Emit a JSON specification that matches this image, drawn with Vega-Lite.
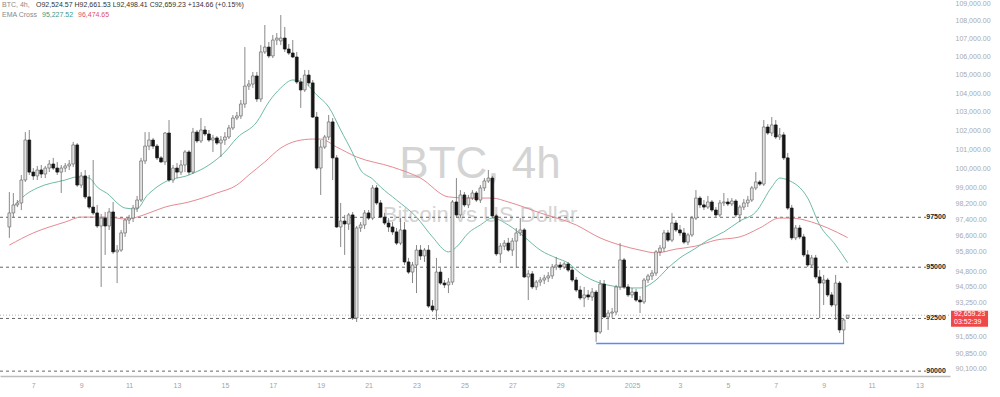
{
"$schema":"https://vega.github.io/schema/vega-lite/v6.json",
"width":950,"height":376,"autosize":{"type":"none"},"padding":{"left":0,"top":0,"right":50,"bottom":21},
"background":"white",
"config":{"view":{"stroke":null},"text":{"font":"Liberation Sans"},"axis":{"labelFont":"Liberation Sans"}},
"data":{"values":[{}]},
"datasets":{
"candles":[
{"t":"2024-12-06T00:00Z","o":97010,"h":98790,"l":96460,"c":97720},
{"t":"2024-12-06T04:00Z","o":97720,"h":98740,"l":97510,"c":98130},
{"t":"2024-12-06T08:00Z","o":98130,"h":98380,"l":98020,"c":98230},
{"t":"2024-12-06T12:00Z","o":98230,"h":99670,"l":97870,"c":99410},
{"t":"2024-12-06T16:00Z","o":99410,"h":101920,"l":99310,"c":101500},
{"t":"2024-12-06T20:00Z","o":101500,"h":102030,"l":99670,"c":99820},
{"t":"2024-12-07T00:00Z","o":99820,"h":100030,"l":99410,"c":99620},
{"t":"2024-12-07T04:00Z","o":99620,"h":100140,"l":99410,"c":99930},
{"t":"2024-12-07T08:00Z","o":99930,"h":100190,"l":99510,"c":99720},
{"t":"2024-12-07T12:00Z","o":99720,"h":100140,"l":99510,"c":100030},
{"t":"2024-12-07T16:00Z","o":100030,"h":100450,"l":99820,"c":100240},
{"t":"2024-12-07T20:00Z","o":100240,"h":100560,"l":99930,"c":100030},
{"t":"2024-12-08T00:00Z","o":100030,"h":100350,"l":99670,"c":99820},
{"t":"2024-12-08T04:00Z","o":99820,"h":100190,"l":98740,"c":100030},
{"t":"2024-12-08T08:00Z","o":100030,"h":100290,"l":99820,"c":100140},
{"t":"2024-12-08T12:00Z","o":100140,"h":100450,"l":99930,"c":100240},
{"t":"2024-12-08T16:00Z","o":100240,"h":101400,"l":100080,"c":101240},
{"t":"2024-12-08T20:00Z","o":101240,"h":101340,"l":99050,"c":99150},
{"t":"2024-12-09T00:00Z","o":99150,"h":99820,"l":99000,"c":99620},
{"t":"2024-12-09T04:00Z","o":99620,"h":99930,"l":98430,"c":98540},
{"t":"2024-12-09T08:00Z","o":98540,"h":99670,"l":97920,"c":98020},
{"t":"2024-12-09T12:00Z","o":98020,"h":100450,"l":97620,"c":97720},
{"t":"2024-12-09T16:00Z","o":97720,"h":98130,"l":96960,"c":97060},
{"t":"2024-12-09T20:00Z","o":97060,"h":97670,"l":94030,"c":97460},
{"t":"2024-12-10T00:00Z","o":97460,"h":97770,"l":95610,"c":97060},
{"t":"2024-12-10T04:00Z","o":97060,"h":97970,"l":96860,"c":97770},
{"t":"2024-12-10T08:00Z","o":97770,"h":98280,"l":95660,"c":95760},
{"t":"2024-12-10T12:00Z","o":95760,"h":96100,"l":94220,"c":95850},
{"t":"2024-12-10T16:00Z","o":95850,"h":96860,"l":95760,"c":96710},
{"t":"2024-12-10T20:00Z","o":96710,"h":97460,"l":96510,"c":97360},
{"t":"2024-12-11T00:00Z","o":97360,"h":97620,"l":97160,"c":97460},
{"t":"2024-12-11T04:00Z","o":97460,"h":98130,"l":97260,"c":97970},
{"t":"2024-12-11T08:00Z","o":97970,"h":98590,"l":97770,"c":98380},
{"t":"2024-12-11T12:00Z","o":98380,"h":100560,"l":98280,"c":100400},
{"t":"2024-12-11T16:00Z","o":100400,"h":101920,"l":100240,"c":101180},
{"t":"2024-12-11T20:00Z","o":101180,"h":101920,"l":100970,"c":101500},
{"t":"2024-12-12T00:00Z","o":101500,"h":101610,"l":101030,"c":101180},
{"t":"2024-12-12T04:00Z","o":101180,"h":101290,"l":100450,"c":100560},
{"t":"2024-12-12T08:00Z","o":100560,"h":100660,"l":100290,"c":100350},
{"t":"2024-12-12T12:00Z","o":100350,"h":101920,"l":100190,"c":101870},
{"t":"2024-12-12T16:00Z","o":101870,"h":102560,"l":99310,"c":99410},
{"t":"2024-12-12T20:00Z","o":99410,"h":100190,"l":99260,"c":100030},
{"t":"2024-12-13T00:00Z","o":100030,"h":100290,"l":99510,"c":99820},
{"t":"2024-12-13T04:00Z","o":99820,"h":100450,"l":99670,"c":100190},
{"t":"2024-12-13T08:00Z","o":100190,"h":100970,"l":99820,"c":100870},
{"t":"2024-12-13T12:00Z","o":100870,"h":100970,"l":99670,"c":99820},
{"t":"2024-12-13T16:00Z","o":99820,"h":102140,"l":99720,"c":101920},
{"t":"2024-12-13T20:00Z","o":101920,"h":102030,"l":101340,"c":101450},
{"t":"2024-12-14T00:00Z","o":101450,"h":102670,"l":101340,"c":102030},
{"t":"2024-12-14T04:00Z","o":102030,"h":102240,"l":101710,"c":101820},
{"t":"2024-12-14T08:00Z","o":101820,"h":102030,"l":101400,"c":101500},
{"t":"2024-12-14T12:00Z","o":101500,"h":101770,"l":100870,"c":101610},
{"t":"2024-12-14T16:00Z","o":101610,"h":101710,"l":101240,"c":101340},
{"t":"2024-12-14T20:00Z","o":101340,"h":101710,"l":100610,"c":101500},
{"t":"2024-12-15T00:00Z","o":101500,"h":101920,"l":101240,"c":101660},
{"t":"2024-12-15T04:00Z","o":101660,"h":102300,"l":101550,"c":102140},
{"t":"2024-12-15T08:00Z","o":102140,"h":102830,"l":102030,"c":102670},
{"t":"2024-12-15T12:00Z","o":102670,"h":102990,"l":102560,"c":102780},
{"t":"2024-12-15T16:00Z","o":102780,"h":103640,"l":102620,"c":103420},
{"t":"2024-12-15T20:00Z","o":103420,"h":106530,"l":103210,"c":104390},
{"t":"2024-12-16T00:00Z","o":104390,"h":104720,"l":104180,"c":104500},
{"t":"2024-12-16T04:00Z","o":104500,"h":105160,"l":104290,"c":104940},
{"t":"2024-12-16T08:00Z","o":104940,"h":105160,"l":103530,"c":103690},
{"t":"2024-12-16T12:00Z","o":103690,"h":106640,"l":103530,"c":106260},
{"t":"2024-12-16T16:00Z","o":106260,"h":107760,"l":106150,"c":106530},
{"t":"2024-12-16T20:00Z","o":106530,"h":106810,"l":105920,"c":106040},
{"t":"2024-12-17T00:00Z","o":106040,"h":107200,"l":105920,"c":106920},
{"t":"2024-12-17T04:00Z","o":106920,"h":107310,"l":106640,"c":107030},
{"t":"2024-12-17T08:00Z","o":106870,"h":108320,"l":106640,"c":107030},
{"t":"2024-12-17T12:00Z","o":107030,"h":107650,"l":106260,"c":106420},
{"t":"2024-12-17T16:00Z","o":106420,"h":106700,"l":106090,"c":106200},
{"t":"2024-12-17T20:00Z","o":106200,"h":106920,"l":105920,"c":105980},
{"t":"2024-12-18T00:00Z","o":105980,"h":106260,"l":104500,"c":104610},
{"t":"2024-12-18T04:00Z","o":104610,"h":104830,"l":103210,"c":104180},
{"t":"2024-12-18T08:00Z","o":104180,"h":105270,"l":104070,"c":104990},
{"t":"2024-12-18T12:00Z","o":104990,"h":105270,"l":104390,"c":104560},
{"t":"2024-12-18T16:00Z","o":104560,"h":104720,"l":102670,"c":102720},
{"t":"2024-12-18T20:00Z","o":102720,"h":102990,"l":99930,"c":100030},
{"t":"2024-12-19T00:00Z","o":100030,"h":101500,"l":98640,"c":101130},
{"t":"2024-12-19T04:00Z","o":101130,"h":101770,"l":101030,"c":101660},
{"t":"2024-12-19T08:00Z","o":101660,"h":102830,"l":101500,"c":102460},
{"t":"2024-12-19T12:00Z","o":102460,"h":102670,"l":99410,"c":100560},
{"t":"2024-12-19T16:00Z","o":100560,"h":100710,"l":96960,"c":97010},
{"t":"2024-12-19T20:00Z","o":97010,"h":98230,"l":96000,"c":97310},
{"t":"2024-12-20T00:00Z","o":97310,"h":97620,"l":95610,"c":97160},
{"t":"2024-12-20T04:00Z","o":97160,"h":97720,"l":96860,"c":97620},
{"t":"2024-12-20T08:00Z","o":97620,"h":97770,"l":92430,"c":92520},
{"t":"2024-12-20T12:00Z","o":92520,"h":97060,"l":92330,"c":96960},
{"t":"2024-12-20T16:00Z","o":96960,"h":97260,"l":96760,"c":97110},
{"t":"2024-12-20T20:00Z","o":97110,"h":97870,"l":96910,"c":97720},
{"t":"2024-12-21T00:00Z","o":97720,"h":97870,"l":97360,"c":97460},
{"t":"2024-12-21T04:00Z","o":97460,"h":99150,"l":97360,"c":99000},
{"t":"2024-12-21T08:00Z","o":99000,"h":99150,"l":98130,"c":98230},
{"t":"2024-12-21T12:00Z","o":98230,"h":98380,"l":97460,"c":97510},
{"t":"2024-12-21T16:00Z","o":97510,"h":97720,"l":97110,"c":97210},
{"t":"2024-12-21T20:00Z","o":97210,"h":97460,"l":96760,"c":97010},
{"t":"2024-12-22T00:00Z","o":97010,"h":97260,"l":96610,"c":96760},
{"t":"2024-12-22T04:00Z","o":96760,"h":96960,"l":96100,"c":96200},
{"t":"2024-12-22T08:00Z","o":96200,"h":97460,"l":96100,"c":96860},
{"t":"2024-12-22T12:00Z","o":96860,"h":97260,"l":95110,"c":95260},
{"t":"2024-12-22T16:00Z","o":95260,"h":95460,"l":94670,"c":94760},
{"t":"2024-12-22T20:00Z","o":94760,"h":95260,"l":94220,"c":95110},
{"t":"2024-12-23T00:00Z","o":95110,"h":96100,"l":93730,"c":95850},
{"t":"2024-12-23T04:00Z","o":95850,"h":96100,"l":95360,"c":95560},
{"t":"2024-12-23T08:00Z","o":95560,"h":95950,"l":95260,"c":95850},
{"t":"2024-12-23T12:00Z","o":95850,"h":96100,"l":93010,"c":93100},
{"t":"2024-12-23T16:00Z","o":93100,"h":93390,"l":92810,"c":92910},
{"t":"2024-12-23T20:00Z","o":92910,"h":95460,"l":92430,"c":94760},
{"t":"2024-12-24T00:00Z","o":94760,"h":94960,"l":94130,"c":94220},
{"t":"2024-12-24T04:00Z","o":94220,"h":94370,"l":93980,"c":94130},
{"t":"2024-12-24T08:00Z","o":94130,"h":94470,"l":93730,"c":94270},
{"t":"2024-12-24T12:00Z","o":94270,"h":98380,"l":94130,"c":98280},
{"t":"2024-12-24T16:00Z","o":98280,"h":99510,"l":97510,"c":97620},
{"t":"2024-12-24T20:00Z","o":97620,"h":98890,"l":97460,"c":98640},
{"t":"2024-12-25T00:00Z","o":98640,"h":98790,"l":98020,"c":98130},
{"t":"2024-12-25T04:00Z","o":98130,"h":98640,"l":97970,"c":98480},
{"t":"2024-12-25T08:00Z","o":98480,"h":98890,"l":98380,"c":98740},
{"t":"2024-12-25T12:00Z","o":98740,"h":98840,"l":98280,"c":98380},
{"t":"2024-12-25T16:00Z","o":98380,"h":99150,"l":98230,"c":99000},
{"t":"2024-12-25T20:00Z","o":99000,"h":99510,"l":98840,"c":99360},
{"t":"2024-12-26T00:00Z","o":99360,"h":99930,"l":99260,"c":99510},
{"t":"2024-12-26T04:00Z","o":99510,"h":99620,"l":97460,"c":97570},
{"t":"2024-12-26T08:00Z","o":97570,"h":97670,"l":95560,"c":95660},
{"t":"2024-12-26T12:00Z","o":95660,"h":96200,"l":95210,"c":96050},
{"t":"2024-12-26T16:00Z","o":96050,"h":96350,"l":95850,"c":96200},
{"t":"2024-12-26T20:00Z","o":96200,"h":96460,"l":95760,"c":95850},
{"t":"2024-12-27T00:00Z","o":95850,"h":96460,"l":95560,"c":96300},
{"t":"2024-12-27T04:00Z","o":96300,"h":96960,"l":94960,"c":96710},
{"t":"2024-12-27T08:00Z","o":96710,"h":97460,"l":96560,"c":96860},
{"t":"2024-12-27T12:00Z","o":96860,"h":96960,"l":94470,"c":94520},
{"t":"2024-12-27T16:00Z","o":94520,"h":94860,"l":93390,"c":94670},
{"t":"2024-12-27T20:00Z","o":94670,"h":94810,"l":93930,"c":94030},
{"t":"2024-12-28T00:00Z","o":94030,"h":94370,"l":93880,"c":94270},
{"t":"2024-12-28T04:00Z","o":94270,"h":94520,"l":94080,"c":94370},
{"t":"2024-12-28T08:00Z","o":94370,"h":94620,"l":94170,"c":94470},
{"t":"2024-12-28T12:00Z","o":94470,"h":94760,"l":94270,"c":94570},
{"t":"2024-12-28T16:00Z","o":94570,"h":95160,"l":94420,"c":95010},
{"t":"2024-12-28T20:00Z","o":95010,"h":95510,"l":94860,"c":95110},
{"t":"2024-12-29T00:00Z","o":95110,"h":95260,"l":94860,"c":95010},
{"t":"2024-12-29T04:00Z","o":95010,"h":95260,"l":94910,"c":95160},
{"t":"2024-12-29T08:00Z","o":95160,"h":95260,"l":94760,"c":94860},
{"t":"2024-12-29T12:00Z","o":94860,"h":95010,"l":94270,"c":94370},
{"t":"2024-12-29T16:00Z","o":94370,"h":94520,"l":93780,"c":93880},
{"t":"2024-12-29T20:00Z","o":93880,"h":94080,"l":93390,"c":93490},
{"t":"2024-12-30T00:00Z","o":93490,"h":94030,"l":93050,"c":93640},
{"t":"2024-12-30T04:00Z","o":93640,"h":93880,"l":93390,"c":93540},
{"t":"2024-12-30T08:00Z","o":93540,"h":93980,"l":93350,"c":93780},
{"t":"2024-12-30T12:00Z","o":93780,"h":93880,"l":91380,"c":91850},
{"t":"2024-12-30T16:00Z","o":91850,"h":94370,"l":91760,"c":94170},
{"t":"2024-12-30T20:00Z","o":94170,"h":94370,"l":92520,"c":92570},
{"t":"2024-12-31T00:00Z","o":92570,"h":92910,"l":91950,"c":92760},
{"t":"2024-12-31T04:00Z","o":92760,"h":93010,"l":92520,"c":92810},
{"t":"2024-12-31T08:00Z","o":92810,"h":94130,"l":92670,"c":94030},
{"t":"2024-12-31T12:00Z","o":94030,"h":96200,"l":93880,"c":95360},
{"t":"2024-12-31T16:00Z","o":95360,"h":95460,"l":93930,"c":94030},
{"t":"2024-12-31T20:00Z","o":94030,"h":94170,"l":93540,"c":93640},
{"t":"2025-01-01T00:00Z","o":93640,"h":93980,"l":93490,"c":93780},
{"t":"2025-01-01T04:00Z","o":93780,"h":93930,"l":93300,"c":93390},
{"t":"2025-01-01T08:00Z","o":93390,"h":93590,"l":92760,"c":93300},
{"t":"2025-01-01T12:00Z","o":93300,"h":94470,"l":93200,"c":94370},
{"t":"2025-01-01T16:00Z","o":94370,"h":94670,"l":94220,"c":94570},
{"t":"2025-01-01T20:00Z","o":94570,"h":94860,"l":94370,"c":94710},
{"t":"2025-01-02T00:00Z","o":94710,"h":95850,"l":94570,"c":95760},
{"t":"2025-01-02T04:00Z","o":95760,"h":96100,"l":95560,"c":95950},
{"t":"2025-01-02T08:00Z","o":95950,"h":96860,"l":95760,"c":96710},
{"t":"2025-01-02T12:00Z","o":96710,"h":96860,"l":96250,"c":96350},
{"t":"2025-01-02T16:00Z","o":96350,"h":97720,"l":96250,"c":97210},
{"t":"2025-01-02T20:00Z","o":97210,"h":97360,"l":96760,"c":96860},
{"t":"2025-01-03T00:00Z","o":96860,"h":97110,"l":96560,"c":96710},
{"t":"2025-01-03T04:00Z","o":96710,"h":96960,"l":96150,"c":96250},
{"t":"2025-01-03T08:00Z","o":96250,"h":96710,"l":96100,"c":96610},
{"t":"2025-01-03T12:00Z","o":96610,"h":97570,"l":96510,"c":97460},
{"t":"2025-01-03T16:00Z","o":97460,"h":98890,"l":97360,"c":98480},
{"t":"2025-01-03T20:00Z","o":98480,"h":98590,"l":97970,"c":98130},
{"t":"2025-01-04T00:00Z","o":98130,"h":98380,"l":97870,"c":98020},
{"t":"2025-01-04T04:00Z","o":98020,"h":98590,"l":97920,"c":98280},
{"t":"2025-01-04T08:00Z","o":98280,"h":98380,"l":97770,"c":97870},
{"t":"2025-01-04T12:00Z","o":97870,"h":98020,"l":97510,"c":97620},
{"t":"2025-01-04T16:00Z","o":97620,"h":98380,"l":97510,"c":98230},
{"t":"2025-01-04T20:00Z","o":98230,"h":98740,"l":98070,"c":98280},
{"t":"2025-01-05T00:00Z","o":98280,"h":98480,"l":98070,"c":98180},
{"t":"2025-01-05T04:00Z","o":98180,"h":98480,"l":98070,"c":98330},
{"t":"2025-01-05T08:00Z","o":98330,"h":98430,"l":97510,"c":97620},
{"t":"2025-01-05T12:00Z","o":97620,"h":98130,"l":97260,"c":98020},
{"t":"2025-01-05T16:00Z","o":98020,"h":98430,"l":97870,"c":98230},
{"t":"2025-01-05T20:00Z","o":98230,"h":98590,"l":98020,"c":98380},
{"t":"2025-01-06T00:00Z","o":98380,"h":99100,"l":98280,"c":99000},
{"t":"2025-01-06T04:00Z","o":99000,"h":99820,"l":98890,"c":99310},
{"t":"2025-01-06T08:00Z","o":99310,"h":99410,"l":99100,"c":99200},
{"t":"2025-01-06T12:00Z","o":99200,"h":102560,"l":99100,"c":102190},
{"t":"2025-01-06T16:00Z","o":102190,"h":102350,"l":101770,"c":101870},
{"t":"2025-01-06T20:00Z","o":101870,"h":102720,"l":101710,"c":102300},
{"t":"2025-01-07T00:00Z","o":102300,"h":102560,"l":101550,"c":101660},
{"t":"2025-01-07T04:00Z","o":101660,"h":102140,"l":101500,"c":101770},
{"t":"2025-01-07T08:00Z","o":101770,"h":101920,"l":100450,"c":100560},
{"t":"2025-01-07T12:00Z","o":100560,"h":100820,"l":97870,"c":97970},
{"t":"2025-01-07T16:00Z","o":97970,"h":98130,"l":96350,"c":96460},
{"t":"2025-01-07T20:00Z","o":96460,"h":97110,"l":96350,"c":96960},
{"t":"2025-01-08T00:00Z","o":96960,"h":97110,"l":96400,"c":96510},
{"t":"2025-01-08T04:00Z","o":96510,"h":96660,"l":95510,"c":95610},
{"t":"2025-01-08T08:00Z","o":95610,"h":95850,"l":95010,"c":95110},
{"t":"2025-01-08T12:00Z","o":95110,"h":95610,"l":94960,"c":95460},
{"t":"2025-01-08T16:00Z","o":95460,"h":95610,"l":94420,"c":94520},
{"t":"2025-01-08T20:00Z","o":94520,"h":94860,"l":92520,"c":94220},
{"t":"2025-01-09T00:00Z","o":94220,"h":94620,"l":93150,"c":94370},
{"t":"2025-01-09T04:00Z","o":94370,"h":94470,"l":93540,"c":93640},
{"t":"2025-01-09T08:00Z","o":93640,"h":93780,"l":93050,"c":93150},
{"t":"2025-01-09T12:00Z","o":93150,"h":94620,"l":92430,"c":94220},
{"t":"2025-01-09T16:00Z","o":94220,"h":94320,"l":91800,"c":91950},
{"t":"2025-01-09T20:00Z","o":91950,"h":92520,"l":91300,"c":92430},
{"t":"2025-01-10T00:00Z","o":92524.57,"h":92661.53,"l":92498.41,"c":92659.23}
],
"ema1":[
{"t":"2024-12-06T04:00Z","v":98020},{"t":"2024-12-06T16:00Z","v":98640},{"t":"2024-12-07T04:00Z","v":99000},{"t":"2024-12-08T08:00Z","v":99410},{"t":"2024-12-08T20:00Z","v":99570},{"t":"2024-12-09T08:00Z","v":99510},{"t":"2024-12-09T16:00Z","v":99050},{"t":"2024-12-10T04:00Z","v":98640},{"t":"2024-12-10T12:00Z","v":98230},{"t":"2024-12-10T20:00Z","v":97970},{"t":"2024-12-11T08:00Z","v":97920},{"t":"2024-12-11T12:00Z","v":98130},{"t":"2024-12-11T16:00Z","v":98480},{"t":"2024-12-12T00:00Z","v":98890},{"t":"2024-12-12T12:00Z","v":99310},{"t":"2024-12-13T12:00Z","v":99670},{"t":"2024-12-14T08:00Z","v":100190},{"t":"2024-12-15T00:00Z","v":100870},{"t":"2024-12-15T12:00Z","v":101610},{"t":"2024-12-16T08:00Z","v":102460},{"t":"2024-12-16T20:00Z","v":103530},{"t":"2024-12-17T08:00Z","v":104290},{"t":"2024-12-17T20:00Z","v":104720},{"t":"2024-12-18T08:00Z","v":104560},{"t":"2024-12-18T20:00Z","v":103910},{"t":"2024-12-19T08:00Z","v":103260},{"t":"2024-12-19T20:00Z","v":102030},{"t":"2024-12-20T08:00Z","v":100820},{"t":"2024-12-20T16:00Z","v":99930},{"t":"2024-12-21T04:00Z","v":99460},{"t":"2024-12-21T12:00Z","v":99050},{"t":"2024-12-22T04:00Z","v":98380},{"t":"2024-12-23T00:00Z","v":97510},{"t":"2024-12-23T16:00Z","v":96510},{"t":"2024-12-24T08:00Z","v":95760},{"t":"2024-12-24T16:00Z","v":96000},{"t":"2024-12-25T04:00Z","v":96710},{"t":"2024-12-25T16:00Z","v":97110},{"t":"2024-12-26T04:00Z","v":97460},{"t":"2024-12-26T20:00Z","v":97110},{"t":"2024-12-27T12:00Z","v":96510},{"t":"2024-12-28T04:00Z","v":95850},{"t":"2024-12-28T20:00Z","v":95460},{"t":"2024-12-29T08:00Z","v":95210},{"t":"2024-12-29T20:00Z","v":94710},{"t":"2024-12-30T16:00Z","v":94220},{"t":"2024-12-31T04:00Z","v":94080},{"t":"2025-01-01T00:00Z","v":93980},{"t":"2025-01-01T08:00Z","v":93980},{"t":"2025-01-02T00:00Z","v":94370},{"t":"2025-01-02T12:00Z","v":94960},{"t":"2025-01-03T00:00Z","v":95460},{"t":"2025-01-03T16:00Z","v":95950},{"t":"2025-01-04T04:00Z","v":96350},{"t":"2025-01-04T20:00Z","v":96760},{"t":"2025-01-05T12:00Z","v":97310},{"t":"2025-01-06T04:00Z","v":97770},{"t":"2025-01-06T20:00Z","v":99050},{"t":"2025-01-07T04:00Z","v":99510},{"t":"2025-01-07T12:00Z","v":99410},{"t":"2025-01-08T08:00Z","v":98480},{"t":"2025-01-08T20:00Z","v":97110},{"t":"2025-01-09T12:00Z","v":96100},{"t":"2025-01-10T00:00Z","v":95227.52}
],
"ema2":[
{"t":"2024-12-06T00:00Z","v":96100},{"t":"2024-12-07T00:00Z","v":96710},{"t":"2024-12-08T08:00Z","v":97260},{"t":"2024-12-09T00:00Z","v":97510},{"t":"2024-12-09T16:00Z","v":97510},{"t":"2024-12-10T12:00Z","v":97460},{"t":"2024-12-10T20:00Z","v":97410},{"t":"2024-12-11T08:00Z","v":97510},{"t":"2024-12-11T20:00Z","v":97720},{"t":"2024-12-12T12:00Z","v":98020},{"t":"2024-12-13T12:00Z","v":98280},{"t":"2024-12-14T16:00Z","v":98740},{"t":"2024-12-15T12:00Z","v":99150},{"t":"2024-12-16T00:00Z","v":99670},{"t":"2024-12-16T16:00Z","v":100350},{"t":"2024-12-17T08:00Z","v":101080},{"t":"2024-12-18T00:00Z","v":101450},{"t":"2024-12-18T16:00Z","v":101550},{"t":"2024-12-19T00:00Z","v":101550},{"t":"2024-12-19T16:00Z","v":101130},{"t":"2024-12-20T12:00Z","v":100610},{"t":"2024-12-22T00:00Z","v":100080},{"t":"2024-12-23T04:00Z","v":99510},{"t":"2024-12-24T08:00Z","v":98540},{"t":"2024-12-25T04:00Z","v":98480},{"t":"2024-12-26T04:00Z","v":98480},{"t":"2024-12-26T20:00Z","v":98280},{"t":"2024-12-28T04:00Z","v":97720},{"t":"2024-12-29T16:00Z","v":97110},{"t":"2024-12-30T16:00Z","v":96460},{"t":"2024-12-31T12:00Z","v":96100},{"t":"2025-01-01T08:00Z","v":95850},{"t":"2025-01-02T00:00Z","v":95710},{"t":"2025-01-02T20:00Z","v":95900},{"t":"2025-01-03T16:00Z","v":96050},{"t":"2025-01-04T12:00Z","v":96350},{"t":"2025-01-05T12:00Z","v":96510},{"t":"2025-01-06T08:00Z","v":96960},{"t":"2025-01-07T04:00Z","v":97460},{"t":"2025-01-07T16:00Z","v":97460},{"t":"2025-01-08T12:00Z","v":97260},{"t":"2025-01-09T04:00Z","v":96960},{"t":"2025-01-10T00:00Z","v":96474.65}
],
"levels":[{"p":97500},{"p":95000},{"p":92500},{"p":90000}],
"support":[{"t":"2024-12-30T12:00Z","p":91300},{"t":"2025-01-09T20:30Z","p":91300}]
},
"layer":[
{"data":{"name":"candles"},"mark":{"type":"bar","width":2.8,"strokeWidth":0.7,"opacity":0},
 "encoding":{
 "x":{"field":"t","type":"temporal","scale":{"padding":0,"domain":[{"year":2024,"month":12,"date":5,"hours":14,"minutes":38,"utc":true},{"year":2025,"month":1,"date":14,"hours":6,"minutes":36,"utc":true}]},
  "axis":{"orient":"bottom","title":null,"grid":false,"ticks":false,"domain":true,"domainColor":"#bdbdbd","domainWidth":1.5,"labelColor":"#a3a3a3","labelFontSize":7,"labelPadding":5,"labelFlush":false,"labelOverlap":false,
   "values":[{"year":2024,"month":12,"date":7,"utc":true},{"year":2024,"month":12,"date":9,"utc":true},{"year":2024,"month":12,"date":11,"utc":true},{"year":2024,"month":12,"date":13,"utc":true},{"year":2024,"month":12,"date":15,"utc":true},{"year":2024,"month":12,"date":17,"utc":true},{"year":2024,"month":12,"date":19,"utc":true},{"year":2024,"month":12,"date":21,"utc":true},{"year":2024,"month":12,"date":23,"utc":true},{"year":2024,"month":12,"date":25,"utc":true},{"year":2024,"month":12,"date":27,"utc":true},{"year":2024,"month":12,"date":29,"utc":true},{"year":2025,"month":1,"date":1,"utc":true},{"year":2025,"month":1,"date":3,"utc":true},{"year":2025,"month":1,"date":5,"utc":true},{"year":2025,"month":1,"date":7,"utc":true},{"year":2025,"month":1,"date":9,"utc":true},{"year":2025,"month":1,"date":11,"utc":true},{"year":2025,"month":1,"date":13,"utc":true}],
   "labelExpr":"utcdate(datum.value) == 1 && utcmonth(datum.value) == 0 ? utcFormat(datum.value, '%Y') : utcFormat(datum.value, '%-d')"}},
 "y":{"field":"o","type":"quantitative","scale":{"type":"log","domain":[89772,109171],"nice":false,"zero":false},
  "axis":{"orient":"right","title":null,"grid":false,"ticks":false,"domain":false,"labelColor":"#a6a9b0","labelFontSize":7,"labelPadding":5,"labelOverlap":false,"labelAlign":"left","format":",.2f",
   "values":[109000,108000,107000,106000,105000,104000,103000,102000,101000,100000,99000,98200,97400,96600,95800,94800,94050,93250,91650,90850,90100]}},
 "y2":{"field":"c"}}},
{"mark":{"type":"text","fontSize":44,"color":"#d4d4d4","align":"center","baseline":"middle"},
 "encoding":{"x":{"datum":{"year":2024,"month":12,"date":25,"hours":15,"minutes":38,"utc":true},"type":"temporal"},
 "y":{"datum":100190,"type":"quantitative","scale":{"type":"log"}},"text":{"value":"BTC, 4h"}}},
{"mark":{"type":"text","fontSize":22,"color":"#d4d4d4","align":"center","baseline":"middle"},
 "encoding":{"x":{"datum":{"year":2024,"month":12,"date":25,"hours":15,"minutes":38,"utc":true},"type":"temporal"},
 "y":{"datum":97616,"type":"quantitative","scale":{"type":"log"}},"text":{"value":"Bitcoin vs US Dollar"}}},
{"data":{"name":"levels"},"mark":{"type":"rule","color":"#555555","strokeWidth":0.9,"strokeDash":[3,3]},
 "encoding":{"x":{"datum":{"year":2024,"month":12,"date":5,"hours":14,"minutes":38,"utc":true},"type":"temporal"},
 "x2":{"datum":{"year":2025,"month":1,"date":13,"hours":6,"minutes":38,"utc":true}},
 "y":{"field":"p","type":"quantitative","scale":{"type":"log"}}}},
{"data":{"name":"levels"},"mark":{"type":"text","fontSize":7,"fontWeight":"bold","color":"#222222","align":"center","baseline":"middle"},
 "encoding":{"x":{"datum":{"year":2025,"month":1,"date":13,"hours":16,"minutes":38,"utc":true},"type":"temporal"},
 "y":{"field":"p","type":"quantitative","scale":{"type":"log"}},"text":{"field":"p","type":"quantitative","format":"d"}}},
{"mark":{"type":"rule","color":"#9e9e9e","strokeWidth":0.8,"strokeDash":[1,2]},
 "encoding":{"x":{"datum":{"year":2024,"month":12,"date":5,"hours":14,"minutes":38,"utc":true},"type":"temporal"},
 "x2":{"datum":{"year":2025,"month":1,"date":14,"hours":6,"minutes":36,"utc":true}},
 "y":{"datum":92659.23,"type":"quantitative","scale":{"type":"log"}}}},
{"data":{"name":"ema2"},"mark":{"type":"line","color":"#e58a92","strokeWidth":1,"interpolate":"monotone"},
 "encoding":{"x":{"field":"t","type":"temporal"},"y":{"field":"v","type":"quantitative","scale":{"type":"log"}}}},
{"data":{"name":"ema1"},"mark":{"type":"line","color":"#6fbba6","strokeWidth":1,"interpolate":"monotone"},
 "encoding":{"x":{"field":"t","type":"temporal"},"y":{"field":"v","type":"quantitative","scale":{"type":"log"}}}},
{"data":{"name":"support"},"mark":{"type":"line","color":"#5b8def","strokeWidth":1.6},
 "encoding":{"x":{"field":"t","type":"temporal"},"y":{"field":"p","type":"quantitative","scale":{"type":"log"}}}},
{"data":{"name":"candles"},"mark":{"type":"rule","color":"#6b6b6b","strokeWidth":0.8},
 "encoding":{"x":{"field":"t","type":"temporal"},"y":{"field":"l","type":"quantitative","scale":{"type":"log"}},"y2":{"field":"h"}}},
{"data":{"name":"candles"},"mark":{"type":"bar","width":2.8,"strokeWidth":0.7},
 "encoding":{
 "x":{"field":"t","type":"temporal"},
 "y":{"field":"o","type":"quantitative","scale":{"type":"log"}},
 "y2":{"field":"c"},
 "fill":{"condition":{"test":"datum.c >= datum.o","value":"#e3e3e3"},"value":"#161616"},
 "stroke":{"condition":{"test":"datum.c >= datum.o","value":"#6b6b6b"},"value":"#161616"}}},
{"mark":{"type":"text","fontSize":7,"color":"#8a8a8a","align":"left","baseline":"middle"},
 "encoding":{"x":{"datum":{"year":2024,"month":12,"date":5,"hours":16,"minutes":38,"utc":true},"type":"temporal"},
 "y":{"datum":108885,"type":"quantitative","scale":{"type":"log"}},"text":{"value":"BTC, 4h,"}}},
{"mark":{"type":"text","fontSize":7,"color":"#333333","align":"left","baseline":"middle"},
 "encoding":{"x":{"datum":{"year":2024,"month":12,"date":7,"hours":2,"minutes":43,"utc":true},"type":"temporal"},
 "y":{"datum":108885,"type":"quantitative","scale":{"type":"log"}},"text":{"value":"O92,524.57  H92,661.53  L92,498.41  C92,659.23  +134.66 (+0.15%)"}}},
{"mark":{"type":"text","fontSize":7,"color":"#8a8a8a","align":"left","baseline":"middle"},
 "encoding":{"x":{"datum":{"year":2024,"month":12,"date":5,"hours":16,"minutes":38,"utc":true},"type":"temporal"},
 "y":{"datum":108322,"type":"quantitative","scale":{"type":"log"}},"text":{"value":"EMA Cross"}}},
{"mark":{"type":"text","fontSize":7,"color":"#3d9a83","align":"left","baseline":"middle"},
 "encoding":{"x":{"datum":{"year":2024,"month":12,"date":7,"hours":8,"minutes":43,"utc":true},"type":"temporal"},
 "y":{"datum":108322,"type":"quantitative","scale":{"type":"log"}},"text":{"value":"95,227.52"}}},
{"mark":{"type":"text","fontSize":7,"color":"#d9545e","align":"left","baseline":"middle"},
 "encoding":{"x":{"datum":{"year":2024,"month":12,"date":8,"hours":20,"minutes":48,"utc":true},"type":"temporal"},
 "y":{"datum":108322,"type":"quantitative","scale":{"type":"log"}},"text":{"value":"96,474.65"}}},
{"mark":{"type":"rect","color":"#ef4848"},
 "encoding":{"x":{"datum":{"year":2025,"month":1,"date":14,"hours":7,"minutes":38,"utc":true},"type":"temporal"},
 "x2":{"datum":{"year":2025,"month":1,"date":15,"hours":20,"minutes":44,"utc":true}},
 "y":{"datum":92874,"type":"quantitative","scale":{"type":"log"}},"y2":{"datum":92105}}},
{"mark":{"type":"text","fontSize":7,"color":"#ffffff","align":"left","baseline":"middle"},
 "encoding":{"x":{"datum":{"year":2025,"month":1,"date":14,"hours":10,"minutes":38,"utc":true},"type":"temporal"},
 "y":{"datum":92692,"type":"quantitative","scale":{"type":"log"}},"text":{"value":"92,659.23"}}},
{"mark":{"type":"text","fontSize":7,"color":"#ffffff","align":"left","baseline":"middle"},
 "encoding":{"x":{"datum":{"year":2025,"month":1,"date":14,"hours":10,"minutes":38,"utc":true},"type":"temporal"},
 "y":{"datum":92307,"type":"quantitative","scale":{"type":"log"}},"text":{"value":"03:52:39"}}}
]
}
